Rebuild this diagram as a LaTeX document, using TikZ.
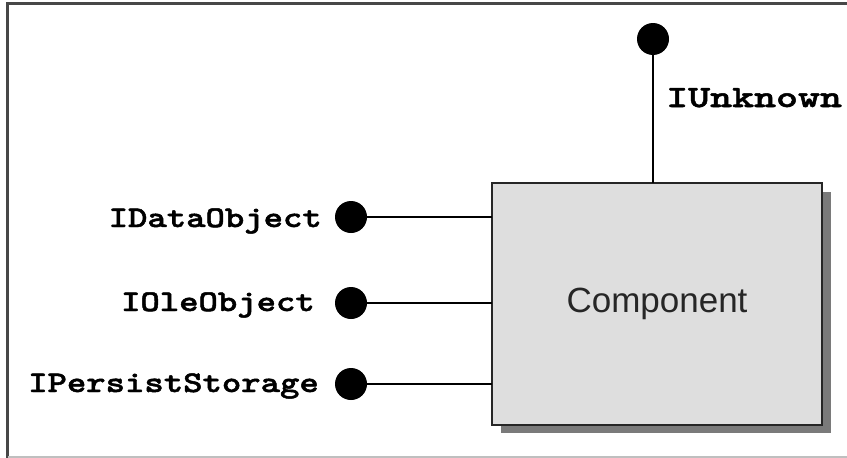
\documentclass[tikz,border=0pt]{standalone}
\usepackage{fontspec}
\setmainfont{Liberation Sans}
% slab-serif typewriter faces for the interface names
\newfontfamily\labelfont{lmmonolt10-bold.otf}[FakeStretch=1.23,FakeBold=1.6]
\newfontfamily\unkfont{lmmonolt10-bold.otf}[FakeStretch=1.35,FakeBold=1.6]
\begin{document}
\begin{tikzpicture}[x=1pt,y=-1pt,
  iface/.style={font=\labelfont\fontsize{30}{34}\selectfont, inner sep=0pt},
  lollipop/.style={circle, fill=black, minimum size=32pt, inner sep=0pt},
  wire/.style={draw=black, line width=1.5pt},
  comp/.style={draw=black!85, line width=2pt, fill=black!13, minimum width=330pt, minimum height=242pt,
    inner sep=0pt}
]
\useasboundingbox (0,0) rectangle (847,458);
% sunken frame
\draw[black!72, line width=2.5pt] (7.5,458) -- (7.5,3.5) -- (847,3.5);
\draw[black!25, line width=2pt] (7.5,456.5) -- (847,456.5);

% component box with drop shadow
\fill[black!52] (501,192) rectangle (831,433);
\node[comp] (comp) at (657,304) {};
\node[font=\fontsize{35}{40}\selectfont, text=black!85, anchor=base] (lbl) at (657,312) {Component};

% IUnknown on top
\node[lollipop] (u) at (653,39) {};
\coordinate (ut) at (653,183);
\draw[wire] (u) -- (ut);
\node[font=\unkfont\fontsize{31}{34}\selectfont, inner sep=0pt, anchor=base west] (ul) at (666,107) {IUnknown};

% interfaces on the left
\node[lollipop] (d) at (351,217) {};
\node[lollipop] (o) at (351,303) {};
\node[lollipop] (p) at (351,384) {};
\coordinate (dt) at (492,217);
\coordinate (ot) at (492,303);
\coordinate (pt) at (492,384);
\draw[wire] (d) -- (dt);
\draw[wire] (o) -- (ot);
\draw[wire] (p) -- (pt);
\node[iface, anchor=base east] (dl) at (322,227) {IDataObject};
\node[iface, anchor=base east] (ol) at (315,311) {IOleObject};
\node[iface, anchor=base east] (pl) at (319,392) {IPersistStorage};
\end{tikzpicture}
\end{document}
